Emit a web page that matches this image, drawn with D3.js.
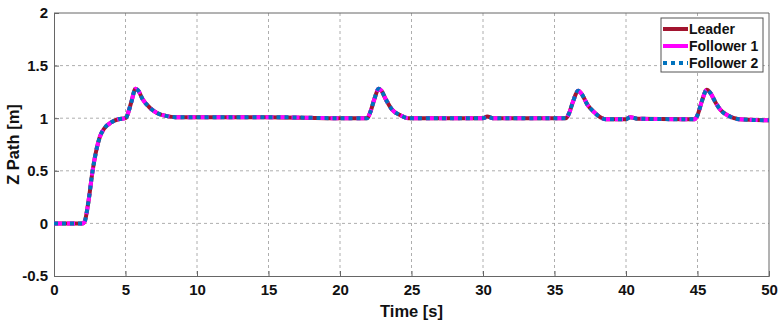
<!DOCTYPE html>
<html>
<head>
<meta charset="utf-8">
<script src="https://cdn.jsdelivr.net/npm/d3@7"></script>
<style>
  body { margin: 0; background: #fff; }
  text { font-family: "Liberation Sans", Arial, sans-serif; font-weight: bold; }
</style>
</head>
<body>
<div id="chart"></div>
<script>
// values
const timeS = [0, 1, 2.0, 2.15, 2.4, 2.7, 3.0, 3.2, 3.5, 4.0, 4.5, 5.0, 5.1, 5.4, 5.7, 5.9, 6.2, 6.7, 7.2, 7.9, 8.5, 10, 15, 20,
  21.9, 22.1, 22.4, 22.7, 22.9, 23.2, 23.65, 24.2, 24.8, 30, 30.3, 30.7,
  35.8, 36.0, 36.3, 36.65, 36.9, 37.3, 37.75, 38.2, 38.6, 40.0, 40.3, 40.8,
  44.8, 45.0, 45.3, 45.65, 45.9, 46.3, 46.6, 47.2, 47.9, 50]
const leaderZ = [0, 0, 0, 0.02, 0.2, 0.5, 0.72, 0.82, 0.9, 0.96, 0.99, 1.0, 1.02, 1.15, 1.28, 1.26, 1.18, 1.1, 1.05, 1.02, 1.01, 1.01, 1.01, 1.0,
  1.0, 1.05, 1.18, 1.28, 1.26, 1.18, 1.08, 1.03, 1.0, 1.0, 1.015, 1.0,
  1.0, 1.04, 1.16, 1.26, 1.23, 1.13, 1.06, 1.01, 0.99, 0.99, 1.01, 0.995,
  0.99, 1.03, 1.16, 1.27, 1.24, 1.14, 1.08, 1.02, 0.99, 0.98]
// followers overlap the leader everywhere in the picture
const follower1Z = leaderZ.slice()
const follower2Z = leaderZ.slice()

const seriesNames = ["Leader", "Follower 1", "Follower 2"]
const seriesColors = ["#a2142f", "#ff00ff", "#0072bd"]
const seriesDash = [null, "8,5", "4,4"]
const xTicks = [0, 5, 10, 15, 20, 25, 30, 35, 40, 45, 50]
const yTicks = [-0.5, 0, 0.5, 1, 1.5, 2]

const width = 782
const height = 324
const marginTop = 13
const marginRight = 13
const marginBottom = 48
const marginLeft = 54

const xScale = d3.scaleLinear([0, 50], [marginLeft, width - marginRight])
const yScale = d3.scaleLinear([-0.5, 2], [height - marginBottom, marginTop])

const svg = d3.select("#chart").append("svg")
    .attr("width", width)
    .attr("height", height)
    .attr("viewBox", [0, 0, width, height])

// grid
svg.append("g")
    .attr("stroke", "#999")
    .attr("stroke-width", 0.8)
    .attr("stroke-dasharray", "3,3")
    .call(g => g.selectAll("line.gx")
        .data(xTicks.slice(1, -1))
        .join("line")
        .attr("class", "gx")
        .attr("x1", d => xScale(d)).attr("x2", d => xScale(d))
        .attr("y1", yScale(2)).attr("y2", yScale(-0.5)))
    .call(g => g.selectAll("line.gy")
        .data(yTicks.slice(1, -1))
        .join("line")
        .attr("class", "gy")
        .attr("x1", xScale(0)).attr("x2", xScale(50))
        .attr("y1", d => yScale(d)).attr("y2", d => yScale(d)))

// axes
const xAxis = d3.axisBottom(xScale).tickValues(xTicks).tickSize(-5).tickPadding(8).tickFormat(d3.format("d"))
const yAxis = d3.axisLeft(yScale).tickValues(yTicks).tickSize(-5).tickPadding(6).tickFormat(d => d)

svg.append("g")
    .attr("transform", `translate(0,${height - marginBottom})`)
    .call(xAxis)
    .call(g => g.select(".domain").attr("stroke", "#666"))
    .call(g => g.selectAll(".tick line").attr("stroke", "#666"))
    .call(g => g.selectAll(".tick text").attr("font-size", 15).attr("fill", "#111"))

svg.append("g")
    .attr("transform", `translate(${marginLeft},0)`)
    .call(yAxis)
    .call(g => g.select(".domain").attr("stroke", "#666"))
    .call(g => g.selectAll(".tick line").attr("stroke", "#666"))
    .call(g => g.selectAll(".tick text").attr("font-size", 15).attr("fill", "#111"))

// top and right border
svg.append("path")
    .attr("fill", "none")
    .attr("stroke", "#666")
    .attr("d", `M${xScale(0)},${yScale(2)}H${xScale(50)}V${yScale(-0.5)}`)

svg.append("text")
    .attr("x", (xScale(0) + xScale(50)) / 2)
    .attr("y", 317)
    .attr("text-anchor", "middle")
    .attr("font-size", 16.5)
    .attr("fill", "#111")
    .text("Time [s]")

svg.append("text")
    .attr("transform", `translate(19,${yScale(0.75)}) rotate(-90)`)
    .attr("text-anchor", "middle")
    .attr("font-size", 16.5)
    .attr("fill", "#111")
    .text("Z Path [m]")

// lines: leader solid, followers dashed/dotted on top
const allSeries = [leaderZ, follower1Z, follower2Z]
allSeries.forEach((vals, k) => {
    const line = d3.line()
        .curve(d3.curveMonotoneX)
        .x(i => xScale(timeS[i]))
        .y(i => yScale(vals[i]))
    svg.append("path")
        .attr("fill", "none")
        .attr("stroke", seriesColors[k])
        .attr("stroke-width", 4)
        .attr("stroke-dasharray", seriesDash[k])
        .attr("d", line(d3.range(timeS.length)))
})

// legend
const legend = svg.append("g").attr("transform", "translate(661,18)")
legend.append("rect")
    .attr("width", 102).attr("height", 54)
    .attr("fill", "#fff").attr("stroke", "#555")
seriesNames.forEach((name, k) => {
    const y = 11 + k * 17
    legend.append("line")
        .attr("x1", 2).attr("x2", 27)
        .attr("y1", y).attr("y2", y)
        .attr("stroke", seriesColors[k])
        .attr("stroke-width", 4)
        .attr("stroke-dasharray", k === 2 ? "4,4" : null)
    legend.append("text")
        .attr("x", 28).attr("y", y + 5)
        .attr("font-size", 14)
        .attr("fill", "#111")
        .text(name)
})
</script>
</body>
</html>
